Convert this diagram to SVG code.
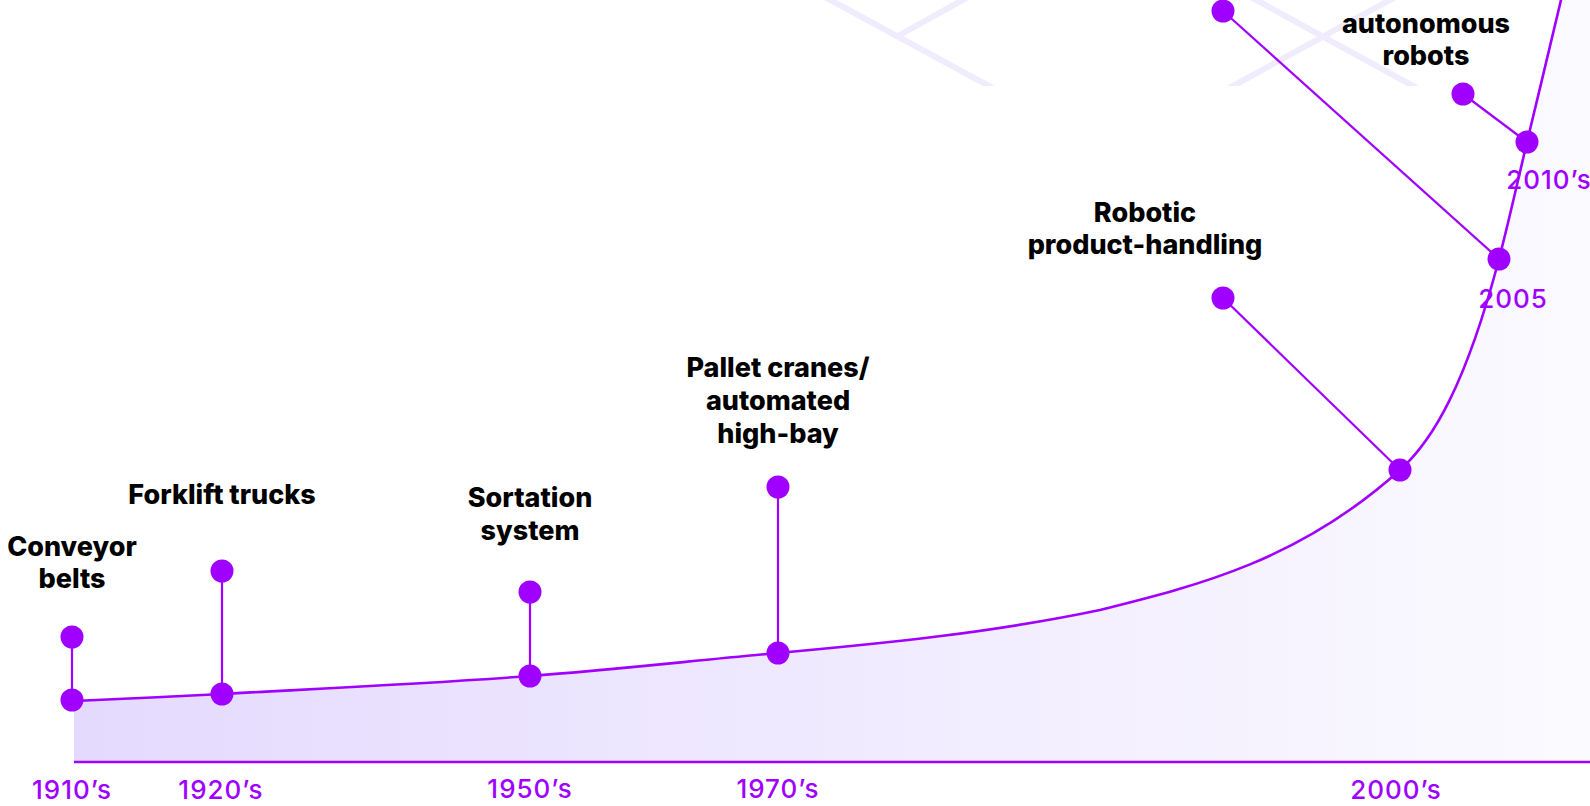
<svg xmlns="http://www.w3.org/2000/svg" width="1590" height="806" viewBox="0 0 1590 806">
<style>
.lbl{font-family:Inter,"Liberation Sans",sans-serif;font-weight:800;font-size:27px;fill:#000;text-anchor:middle}
.yr{font-family:Inter,"Liberation Sans",sans-serif;font-weight:500;font-size:26px;letter-spacing:1px;fill:#A000FF;text-anchor:middle}
.dot{fill:#A000FF}
.stem{stroke:#A000FF;stroke-width:2.2;fill:none}
.curve{stroke:#A000FF;stroke-width:2.6;fill:none}
.pat{stroke:#F0ECFD;stroke-width:6;fill:none}
</style>
<defs>
<linearGradient id="area" x1="74" y1="0" x2="1590" y2="0" gradientUnits="userSpaceOnUse">
<stop offset="0" stop-color="#E4DAFE"/>
<stop offset="1" stop-color="#FBFAFF"/>
</linearGradient>
<clipPath id="patclip"><rect x="0" y="0" width="1590" height="86"/></clipPath>
</defs>
<rect width="1590" height="806" fill="#fff"/>
<g id="pattern" clip-path="url(#patclip)">
<line class="pat" x1="812" y1="-10" x2="1000" y2="92"/>
<line class="pat" x1="968" y1="-3" x2="898" y2="36"/>
<line class="pat" x1="1238" y1="-10" x2="1424" y2="92"/>
<line class="pat" x1="1408" y1="-10" x2="1222" y2="92"/>
</g>
<g id="area-fill">
<path fill="url(#area)" d="M74,701 C123.3,698.7 172.7,696.7 222,694 C324.7,688.4 427.3,683.6 530,676 C612.7,669.9 695.3,660.4 778,653 C885.3,643.3 992.7,632.5 1100,610 C1200,585 1300,560 1400,470 C1433,440.3 1466,384.4 1499,259 C1508.3,223.5 1517.7,181.2 1527,142 C1538.3,94.4 1549.7,48.7 1561,0 L1563.3,-10 L1590,-10 L1590,762 L74,762 Z"/>
</g>
<g id="connectors">
<path class="curve" d="M74,701 C123.3,698.7 172.7,696.7 222,694 C324.7,688.4 427.3,683.6 530,676 C612.7,669.9 695.3,660.4 778,653 C885.3,643.3 992.7,632.5 1100,610 C1200,585 1300,560 1400,470 C1433,440.3 1466,384.4 1499,259 C1508.3,223.5 1517.7,181.2 1527,142 C1538.3,94.4 1549.7,48.7 1561,0 L1563.3,-10"/>
<line class="curve" x1="74" y1="762" x2="1590" y2="762"/>
<line class="stem" x1="72" y1="637" x2="72" y2="700"/>
<line class="stem" x1="222" y1="571" x2="222" y2="694"/>
<line class="stem" x1="530" y1="592" x2="530" y2="676"/>
<line class="stem" x1="778" y1="487" x2="778" y2="653"/>
<line class="stem" x1="1223" y1="298" x2="1400" y2="470"/>
<line class="stem" x1="1223" y1="11" x2="1499" y2="259"/>
<line class="stem" x1="1463" y1="94" x2="1527" y2="142"/>
</g>
<g id="node-1910">
<text class="lbl" x="72" y="556">Conveyor</text>
<text class="lbl" x="72" y="588">belts</text>
<circle class="dot" cx="72" cy="637" r="11.5"/>
<circle class="dot" cx="72" cy="700" r="11.5"/>
<text class="yr" x="72" y="799">1910’s</text>
</g>
<g id="node-1920">
<text class="lbl" x="222" y="504">Forklift trucks</text>
<circle class="dot" cx="222" cy="571" r="11.5"/>
<circle class="dot" cx="222" cy="694" r="11.5"/>
<text class="yr" x="221" y="799">1920’s</text>
</g>
<g id="node-1950">
<text class="lbl" x="530" y="507">Sortation</text>
<text class="lbl" x="530" y="540">system</text>
<circle class="dot" cx="530" cy="592" r="11.5"/>
<circle class="dot" cx="530" cy="676" r="11.5"/>
<text class="yr" x="530" y="798">1950’s</text>
</g>
<g id="node-1970">
<text class="lbl" x="778" y="377">Pallet cranes/</text>
<text class="lbl" x="778" y="410">automated</text>
<text class="lbl" x="778" y="443">high-bay</text>
<circle class="dot" cx="778" cy="487" r="11.5"/>
<circle class="dot" cx="778" cy="653" r="11.5"/>
<text class="yr" x="778" y="798">1970’s</text>
</g>
<g id="node-2000">
<text class="lbl" x="1145" y="222">Robotic</text>
<text class="lbl" x="1145" y="254">product-handling</text>
<circle class="dot" cx="1223" cy="298" r="11.5"/>
<circle class="dot" cx="1400" cy="470" r="11.5"/>
<text class="yr" x="1396" y="799">2000’s</text>
</g>
<g id="node-2005">
<circle class="dot" cx="1223" cy="11" r="11.5"/>
<circle class="dot" cx="1499" cy="259" r="11.5"/>
<text class="yr" x="1513" y="308">2005</text>
</g>
<g id="node-2010">
<text class="lbl" x="1426" y="33">autonomous</text>
<text class="lbl" x="1426" y="65">robots</text>
<circle class="dot" cx="1463" cy="94" r="11.5"/>
<circle class="dot" cx="1527" cy="142" r="11.5"/>
<text class="yr" x="1549" y="189">2010’s</text>
</g>
</svg>
